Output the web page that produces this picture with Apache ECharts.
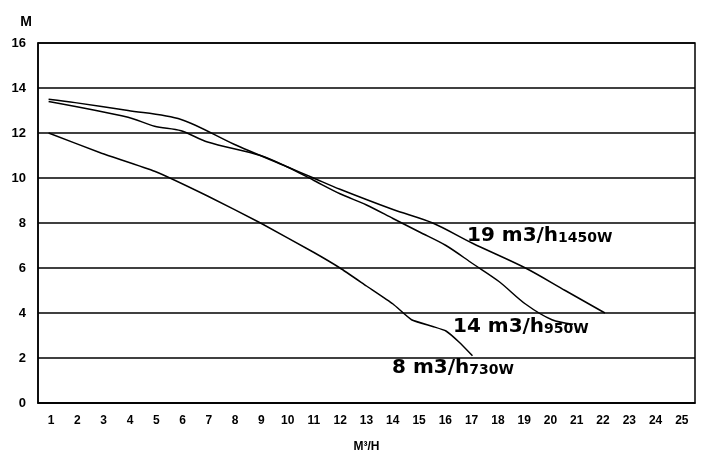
<!DOCTYPE html>
<html><head><meta charset="utf-8">
<script src="https://cdn.jsdelivr.net/npm/echarts@6/dist/echarts.min.js"></script>
<style>html,body{margin:0;background:#fff}#c{width:710px;height:473px}</style>
</head><body><div id="c"></div>
<script>
const xLabels = ['1','2','3','4','5','6','7','8','9','10','11','12','13','14','15','16','17','18','19','20','21','22','23','24','25'];
const yTicks = [0,2,4,6,8,10,12,14,16];
const curve19 = [[1,13.5],[2,13.35],[4,13.0],[6,12.6],[8,11.5],[10,10.5],[11,10.0],[12,9.5],[14,8.6],[15.5,8.0],[17,7.1],[19,6.0],[20.5,5.0],[22,4.0]];
const curve14 = [[1,13.4],[4,12.7],[5,12.3],[6,12.1],[7,11.6],[9,11.0],[10,10.5],[11,9.9],[12,9.3],[13,8.8],[14,8.2],[15,7.6],[16,7.0],[17,6.2],[18,5.4],[19,4.4],[20,3.7],[20.8,3.5]];
const curve8 = [[1,12],[3,11.1],[5,10.3],[7,9.2],[9,8],[11,6.7],[12,6.0],[13,5.2],[14,4.4],[14.7,3.7],[15.5,3.4],[16,3.2],[16.5,2.7],[17,2.1]];
const names = [['19 m3/h','1450W'],['14 m3/h','950W'],['8 m3/h','730W']];
const font = 'Arial, "Liberation Sans", sans-serif';
const lfont = '"DejaVu Sans", sans-serif';
const chart = echarts.init(document.getElementById('c'));
const ls = {color:'#000',width:1.5};
const rich = {b:{fontSize:20,fontWeight:'bold',fontFamily:lfont,fill:'#000'},s:{fontSize:14,fontWeight:'bold',fontFamily:lfont,fill:'#000',padding:[4,0,0,0]}};
function lbl(i,x,y){return {type:'text',left:x,top:y,style:{text:'{b|'+names[i][0]+'}{s|'+names[i][1]+'}',rich:rich,fill:'#000'}};}
chart.setOption({
  animation:false,
  grid:{left:38,right:15,top:43,bottom:70,show:true,borderColor:'#000',borderWidth:1.5},
  xAxis:[
    {type:'value',min:0.6,max:25.4,show:false},
    {type:'category',data:xLabels,position:'bottom',boundaryGap:true,
     axisLine:{lineStyle:{color:'#000',width:1.5}},axisTick:{show:false},
     axisLabel:{color:'#000',fontWeight:'bold',fontSize:12,fontFamily:font,margin:12},
     name:'M³/H',nameLocation:'middle',nameGap:38,nameTextStyle:{color:'#000',fontWeight:'bold',fontSize:12,fontFamily:font}}
  ],
  yAxis:{type:'value',min:0,max:16,interval:2,
    axisLine:{show:true,lineStyle:{color:'#000',width:1.5}},axisTick:{show:false},
    splitLine:{lineStyle:{color:'#000',width:1.5}},
    axisLabel:{color:'#000',fontWeight:'bold',fontSize:13,fontFamily:font,margin:12},
    name:'M',nameGap:14,nameTextStyle:{color:'#000',fontWeight:'bold',fontSize:14,fontFamily:font,align:'right',padding:[0,6,0,0]}},
  series:[curve19,curve14,curve8].map((d,i)=>({type:'line',xAxisIndex:0,data:d,smooth:i===2?0.15:0.3,symbol:'none',lineStyle:ls})),
  graphic:[lbl(0,467,226),lbl(1,453,317),lbl(2,392,358)]
});
</script></body></html>
